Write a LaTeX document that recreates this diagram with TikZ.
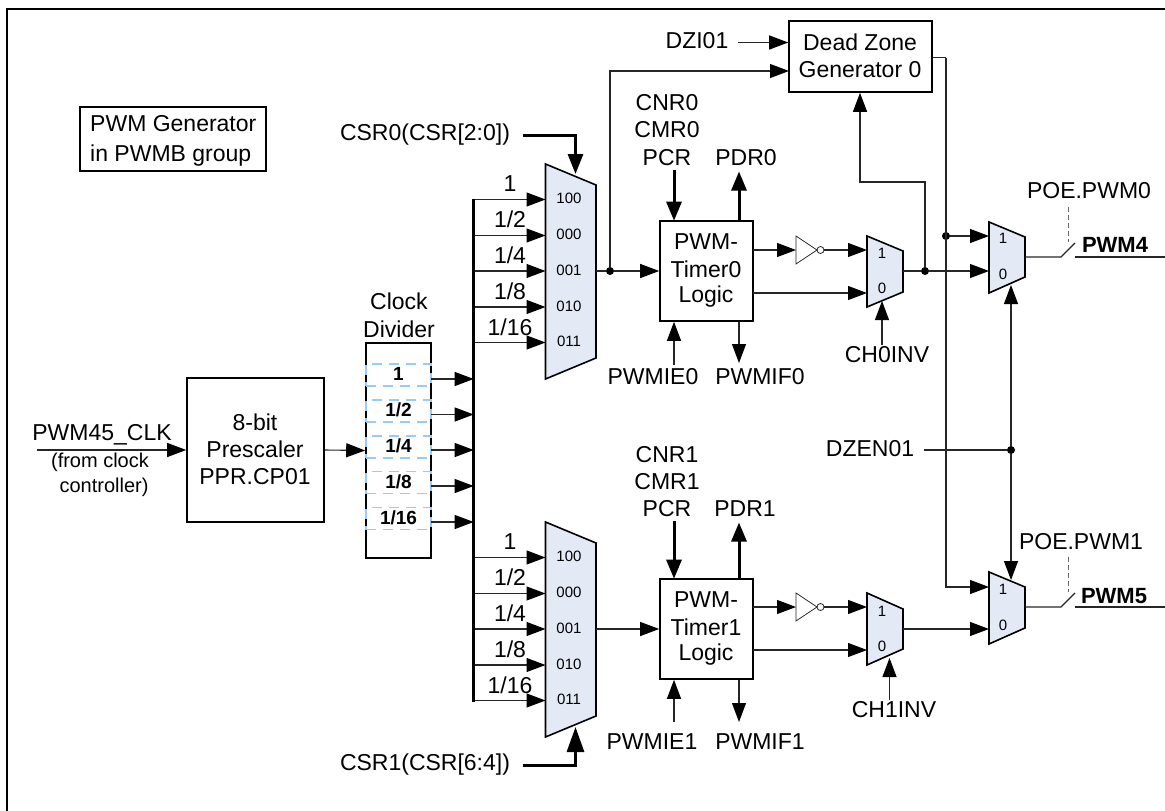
\documentclass[tikz,border=0pt]{standalone}
\usepackage{fontspec}
\setmainfont{Liberation Sans}
\usetikzlibrary{arrows.meta,calc}
\newcommand{\fs}[1]{\fontsize{#1}{#1}\selectfont}
\definecolor{muxfill}{HTML}{E4EAF5}
\definecolor{dashblue}{HTML}{99CCF5}
\tikzset{
  wire/.style={line width=1.1pt,draw=black!85},
  arr/.style={wire,-{Triangle[length=19pt,width=14pt,black]}},
  tharr/.style={line width=3pt,-{Triangle[length=19pt,width=15pt]},shorten >=-0.5pt},
  bigarr/.style={line width=3pt,-{Triangle[length=25pt,width=17pt]}},
  box/.style={draw=black,line width=1.6pt,fill=white,inner sep=0pt,align=center},
  txt/.style={inner sep=0pt,font=\fs{23},align=center},
  muxlbl/.style={inner sep=0pt,font=\fs{15}},
  divlbl/.style={inner sep=0pt,font=\fs{19}\bfseries},
  cell/.style={draw=dashblue,line width=1.3pt,dash pattern=on 10pt off 7pt,inner sep=0pt,minimum width=65pt,minimum height=22pt},
  mux/.style={draw=black,line width=1.6pt,fill=muxfill,line join=miter},
  dot/.style={circle,fill=black,inner sep=0pt,minimum size=8pt},
}
\begin{document}
\begin{tikzpicture}[x=1pt,y=-1pt]
\useasboundingbox (0,0) rectangle (1165,811);
% frame
\coordinate (fbl) at (6.7,811); \coordinate (ftl) at (6.7,9); \coordinate (ftr) at (1165,9);
\draw[line width=2pt] (fbl) -- (ftl) -- (ftr);

% legend
\node[box,minimum width=186pt,minimum height=64pt] (legend) at (173,139) {};
\node[inner sep=0pt,anchor=base west,font=\fs{23}] (leg1) at (90,131) {PWM Generator};
\node[inner sep=0pt,anchor=base west,font=\fs{23}] (leg2) at (90,161) {in PWMB group};

% boxes
\node[box,minimum width=137pt,minimum height=144pt] (pres) at (255.5,450) {};
\node[txt] (pres1) at (255,422) {8-bit};
\node[txt] (pres2) at (255,449) {Prescaler};
\node[txt] (pres3) at (255,477) {PPR.CP01};
\node[box,minimum width=65pt,minimum height=215pt] (div) at (398.5,450.5) {};
\node[txt] (divt1) at (399,301) {Clock};
\node[txt] (divt2) at (399,329) {Divider};
\node[box,minimum width=93pt,minimum height=100pt] (t0) at (706.5,271) {};
\node[box,minimum width=93pt,minimum height=100pt] (t1) at (706.5,629) {};
\foreach \nm/\yy/\n in {t0/0/0,t1/358/1}{
  \node[txt] (\nm a) at (706,242+\yy) {PWM-};
  \node[txt] (\nm b) at (706,269+\yy) {Timer\n};
  \node[txt] (\nm c) at (706,297+\yy) {Logic};
}
\node[box,minimum width=143pt,minimum height=71pt] (dz) at (860.5,56.5) {};
\node[txt] (dz1) at (860,42) {Dead Zone};
\node[txt] (dz2) at (860,70) {Generator 0};

% divider cells
\foreach \yy/\lbl/\k in {375/1/a,411/{1/2}/b,447/{1/4}/c,482.5/{1/8}/d,518.5/{1/16}/e}{
  \node[cell] (cell\k) at (398.5,\yy) {};
  \node[divlbl] (cl\k) at (398.5,\yy-1) {\lbl};
}

% muxes
\draw[mux] (545.5,164) -- (596,185) -- (596,358) -- (545.5,379) -- cycle;
\draw[mux] (545.5,522) -- (596,543) -- (596,716) -- (545.5,737) -- cycle;
\draw[mux] (867,236) -- (903,251) -- (903,292) -- (867,307) -- cycle;
\draw[mux] (867,593) -- (903,609) -- (903,649) -- (867,665) -- cycle;
\draw[mux] (989,222) -- (1025,237) -- (1025,277) -- (989,293) -- cycle;
\draw[mux] (989,572) -- (1025,587) -- (1025,628) -- (989,644) -- cycle;

\foreach \yo/\m in {0/u,358/l}{
  \foreach \yy/\lbl/\k in {199.5/100/a,235.5/000/b,271/001/c,307/010/d,342.5/011/e}{
    \node[muxlbl] (mt\m\k) at (569,\yy+\yo-1) {\lbl};
    \coordinate (bus\m\k) at (473.7,\yy+\yo);
    \coordinate (mi\m\k) at (545.5,\yy+\yo);
    \draw[arr] (bus\m\k) -- (mi\m\k);
  }
  \foreach \yy/\lbl/\k in {184/1/a,219/{1/2}/b,255/{1/4}/c,291/{1/8}/d,327/{1/16}/e}{
    \node[txt] (il\m\k) at (510,\yy+\yo) {\lbl};
  }
}
\node[muxlbl] (s1a) at (882,253) {1};
\node[muxlbl] (s0a) at (882,288) {0};
\node[muxlbl] (s1b) at (882,611) {1};
\node[muxlbl] (s0b) at (882,646) {0};
\node[muxlbl] (s1c) at (1003,238) {1};
\node[muxlbl] (s0c) at (1003,274) {0};
\node[muxlbl] (s1d) at (1003,589) {1};
\node[muxlbl] (s0d) at (1003,625) {0};

% bus
\coordinate (bust) at (473.7,198.5); \coordinate (busb) at (473.7,701.5);
\draw[line width=3pt] (bust) -- (busb);

% clock in
\node[txt] (clk) at (102,435) {PWM45\_CLK};
\node[txt,font=\fs{20}] (clk2) at (100,462) {(from clock};
\node[txt,font=\fs{20}] (clk3) at (104,487) {controller)};
\coordinate (clkin) at (37,450);
\draw[arr] (clkin) -- (pres.west |- clkin);
\draw[arr] (pres.east) -- (div.west);
\foreach \yy in {379,414.5,450,486,522}{
  \coordinate (dv) at (431,\yy);
  \coordinate (bu) at (473.7,\yy);
  \draw[arr] (dv) -- (bu);
}

% selects
\node[txt] (csr0) at (425,135) {CSR0(CSR[2:0])};
\node[txt] (csr1) at (425,765) {CSR1(CSR[6:4])};
\coordinate (c0a) at (523,135); \coordinate (c0b) at (575.5,135); \coordinate (c0c) at (575.5,174);
\draw[line width=3pt,-{Triangle[length=20pt,width=15pt]}] (c0a) -- (c0b) -- (c0c);
\coordinate (c1a) at (523,765); \coordinate (c1b) at (575.5,765); \coordinate (c1c) at (575.5,727);
\draw[bigarr] (c1a) -- (c1b) -- (c1c);

% mux -> timers
\coordinate (m0o) at (596,271); \coordinate (m1o) at (596,629);
\node[dot] (j0) at (610,271) {};
\draw[wire] (m0o) -- (j0);
\draw[arr] (j0) -- (t0.west);
\draw[arr] (m1o) -- (t1.west);
\coordinate (dzl) at (789,71);
\draw[arr] (j0) |- (dzl);
\node[txt] (dzi) at (697,41) {DZI01};
\coordinate (dzis) at (738,42.5);
\draw[arr] (dzis) -- (dz.west |- dzis);

% timer labels
\foreach \yy/\n in {0/0,352/1}{
  \node[txt] (cnr\n) at (667,103+\yy) {CNR\n};
  \node[txt] (cmr\n) at (667,130+\yy) {CMR\n};
}
\node[txt] (pcr0) at (667,158) {PCR};
\node[txt] (pcr1) at (667,509) {PCR};
\node[txt] (pdr0) at (746,158) {PDR0};
\node[txt] (pdr1) at (745,509) {PDR1};
\node[txt] (ie0) at (653,377) {PWMIE0};
\node[txt] (if0) at (760,377) {PWMIF0};
\node[txt] (ie1) at (652,742) {PWMIE1};
\node[txt] (if1) at (760,742) {PWMIF1};
\foreach \tn/\ys/\yp/\yie/\yif/\n in {t0/170/172/365/363/0,t1/521/523/722/722/1}{
  \coordinate (pcs\n) at (674,\ys);
  \coordinate (pds\n) at (739,\yp);
  \coordinate (ies\n) at (674,\yie);
  \coordinate (ifs\n) at (739,\yif);
  \draw[tharr] (pcs\n) -- (pcs\n |- \tn.north);
  \draw[tharr] (pds\n |- \tn.north) -- (pds\n);
  \draw[arr] (ies\n) -- (ies\n |- \tn.south);
  \draw[arr] (ifs\n |- \tn.south) -- (ifs\n);
}

% inverters
\foreach \yy/\n in {250/0,607/1}{
  \draw[line width=0.8pt,draw=black!85] (796,\yy-14) -- (817,\yy) -- (796,\yy+14) -- cycle;
  \node[circle,draw=black!85,line width=0.8pt,fill=white,inner sep=0pt,minimum size=7pt] (bub\n) at (820.5,\yy) {};
  \coordinate (it\n) at (753,\yy); \coordinate (ii\n) at (796,\yy);
  \coordinate (mu\n) at (867,\yy);
  \draw[arr] (it\n) -- (ii\n);
  \draw[arr] (bub\n) -- (mu\n);
  \coordinate (lo\n) at (753,\yy+43);
  \coordinate (ml\n) at (867,\yy+43);
  \draw[arr] (lo\n) -- (ml\n);
}
\node[txt] (inv0) at (887,355) {CH0INV};
\node[txt] (inv1) at (894,710) {CH1INV};
\coordinate (sa0) at (882,345); \coordinate (sb0) at (882,301);
\coordinate (sa1) at (889.5,700); \coordinate (sb1) at (889.5,658);
\draw[arr] (sa0) -- (sb0);
\draw[arr] (sa1) -- (sb1);

% outputs
\coordinate (m2o) at (903,271);
\node[dot] (j1) at (925,271) {};
\draw[wire] (m2o) -- (j1);
\coordinate (mb0) at (989,271);
\draw[arr] (j1) -- (mb0);
\coordinate (fb) at (925,182);
\coordinate (dzb) at (860,182);
\draw[arr] (j1) -- (fb) -- (dzb) -- (dzb |- dz.south);
% dead zone out
\coordinate (dzo) at (946,57.5);
\coordinate (dzc) at (946,587);
\coordinate (md1) at (989,587);
\node[dot] (j2) at (946,236) {};
\coordinate (mc1) at (989,236);
\draw[wire] (dz.east |- dzo) -- (dzo);
\draw[arr] (dzo) -- (dzc) -- (md1);
\draw[arr] (j2) -- (mc1);
\coordinate (m3o) at (903,629); \coordinate (md0) at (989,629);
\draw[arr] (m3o) -- (md0);

% DZEN
\node[txt] (dzen) at (870,449) {DZEN01};
\node[dot] (j3) at (1011,450) {};
\coordinate (dze) at (924,450);
\draw[wire] (dze) -- (j3);
\coordinate (up) at (1011,285); \coordinate (dn) at (1011,580);
\draw[arr] (j3) -- (up);
\draw[arr] (j3) -- (dn);

% switches
\foreach \yy/\n in {257/0,607/1}{
  \coordinate (so\n) at (1025,\yy);
  \coordinate (sw\n) at (1061,\yy);
  \coordinate (st\n) at (1075,\yy-14);
  \coordinate (sr\n) at (1075,\yy);
  \coordinate (se\n) at (1165,\yy);
  \coordinate (da\n) at (1068,\yy-50);
  \coordinate (db\n) at (1068,\yy-15);
  \draw[wire] (so\n) -- (sw\n) -- (st\n);
  \draw[wire] (sr\n) -- (se\n);
  \draw[line width=1pt,draw=black!60,dash pattern=on 5pt off 3pt] (da\n) -- (db\n);
}
\node[txt] (poe0) at (1089,191) {POE.PWM0};
\node[txt] (poe1) at (1081,542) {POE.PWM1};
\node[txt,font=\fs{22}\bfseries] (pwm4) at (1115,245) {PWM4};
\node[txt,font=\fs{22}\bfseries] (pwm5) at (1114,596) {PWM5};
\end{tikzpicture}
\end{document}
